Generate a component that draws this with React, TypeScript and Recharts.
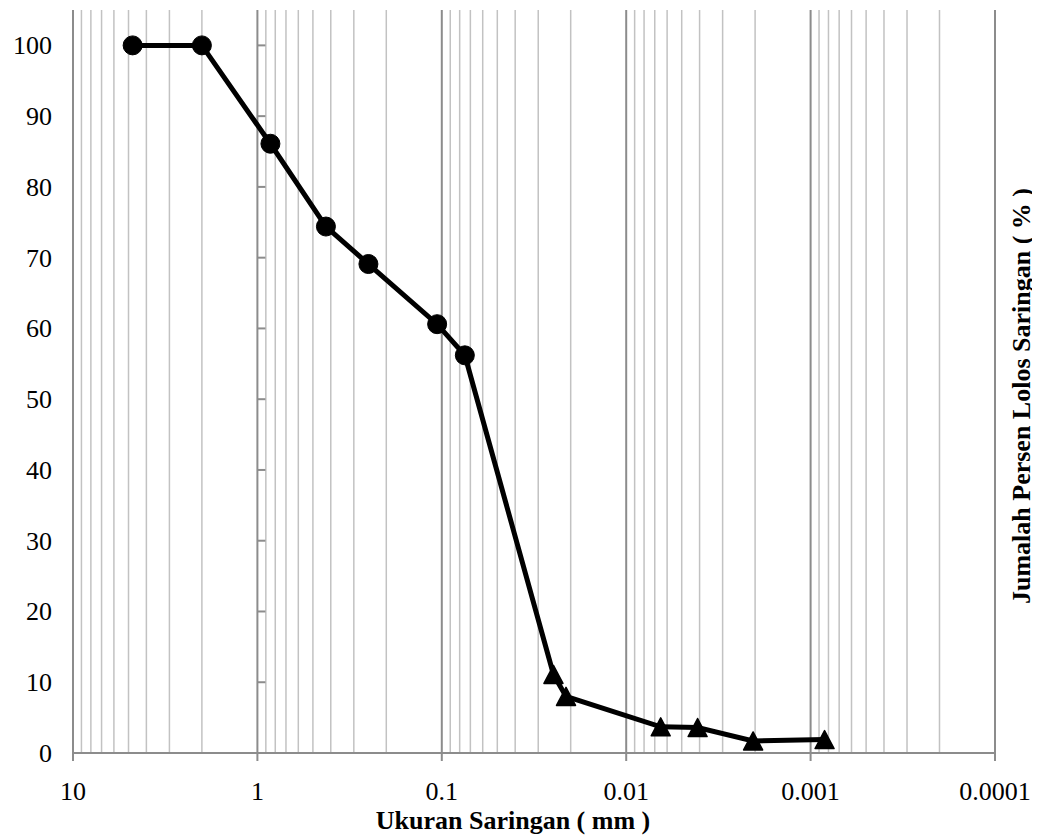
import React from "react";
import { LineChart, Line, XAxis, YAxis, ReferenceLine } from "recharts";

// sieve + hydrometer results
const sizes = [4.75, 2, 0.85, 0.425, 0.25, 0.106, 0.075, 0.0248, 0.0212, 0.0065, 0.0041, 0.00205, 0.00084];
const passing = [100, 100, 86.1, 74.4, 69.1, 60.6, 56.2, 11.1, 8.0, 3.7, 3.6, 1.7, 1.9];
const markers = ["circle", "circle", "circle", "circle", "circle", "circle", "circle", "triangle", "triangle", "triangle", "triangle", "triangle", "triangle"];

const xTicks = [10, 1, 0.1, 0.01, 0.001, 0.0001];
const xTickLabels = ["10", "1", "0.1", "0.01", "0.001", "0.0001"];
const yTicks = [0, 10, 20, 30, 40, 50, 60, 70, 80, 90, 100];

const X_TITLE = "Ukuran Saringan ( mm )";
const Y_TITLE = "Jumalah Persen Lolos Saringan ( % )";

const data = sizes.map((size, i) => ({ size, passing: passing[i], marker: markers[i] }));

// minor log gridlines 2..9 in each decade
const minorGrid: number[] = [];
[1, 0.1, 0.01, 0.001, 0.0001].forEach((d) => {
  for (let k = 2; k <= 9; k++) minorGrid.push(+(k * d).toPrecision(3));
});

const FONT = "'Liberation Serif', 'Times New Roman', serif";
const MAJOR = "#8c8c8c";
const MINOR = "#c2c2c2";

const W = 1032;
const H = 830;
const PLOT_LEFT = 65;
const PLOT_WIDTH = 922;

const YTick = ({ y, payload }: any) => (
  <g>
    <text x={44} y={y + 9} textAnchor="end" fontFamily={FONT} fontSize={26} fill="#000">
      {payload.value}
    </text>
    <line
      x1={PLOT_LEFT + PLOT_WIDTH / 5}
      x2={PLOT_LEFT + PLOT_WIDTH / 5 + 8}
      y1={y}
      y2={y}
      stroke={MAJOR}
      strokeWidth={2}
    />
  </g>
);

const XTick = ({ x, y, payload }: any) => {
  const idx = xTicks.indexOf(payload.value);
  return (
    <text x={x} y={y + 37} textAnchor="middle" fontFamily={FONT} fontSize={26} fill="#000">
      {idx >= 0 ? xTickLabels[idx] : String(payload.value)}
    </text>
  );
};

const renderDot = (props: any) => {
  const { cx, cy, index, payload } = props;
  if (cx == null || cy == null) return <g key={`d-${index}`} />;
  if (payload.marker === "triangle") {
    return (
      <polygon
        key={`d-${index}`}
        points={`${cx},${cy - 9} ${cx + 9.5},${cy + 9} ${cx - 9.5},${cy + 9}`}
        fill="#000"
        stroke="#000"
        strokeWidth={1.5}
        strokeLinejoin="round"
      />
    );
  }
  return <circle key={`d-${index}`} cx={cx} cy={cy} r={9.5} fill="#000" stroke="#000" strokeWidth={1} />;
};

const App = () => {
  return (
    <div style={{ width: W, height: H }}>
      <LineChart width={W} height={H} data={data} margin={{ top: 2, right: 0, bottom: 0, left: 0 }}>
        {minorGrid.map((v) => (
          <ReferenceLine key={`m-${v}`} x={v} stroke={MINOR} strokeWidth={1.5} />
        ))}
        {xTicks.map((v) => (
          <ReferenceLine key={`M-${v}`} x={v} stroke={MAJOR} strokeWidth={2} />
        ))}
        <XAxis
          dataKey="size"
          type="number"
          scale="log"
          domain={[0.0001, 10]}
          allowDataOverflow
          reversed
          ticks={xTicks}
          interval={0}
          height={85}
          axisLine={{ stroke: MAJOR, strokeWidth: 2 }}
          tickLine={{ stroke: MAJOR, strokeWidth: 2 }}
          tickSize={8}
          tick={<XTick />}
          label={(props: any) => {
            const vb = props.viewBox;
            return (
              <text
                x={vb.x + vb.width / 2 - 21}
                y={821}
                textAnchor="middle"
                fontFamily={FONT}
                fontWeight="bold"
                fontSize={26}
                fill="#000"
              >
                {X_TITLE}
              </text>
            );
          }}
        />
        <YAxis
          type="number"
          domain={[0, 105]}
          allowDataOverflow
          ticks={yTicks}
          interval={0}
          width={PLOT_LEFT}
          axisLine={false}
          tickLine={false}
          tick={<YTick />}
        />
        <YAxis
          yAxisId="right"
          orientation="right"
          type="number"
          domain={[0, 105]}
          width={W - PLOT_LEFT - PLOT_WIDTH}
          axisLine={false}
          tickLine={false}
          tick={false}
          label={() => (
            <text
              x={1013}
              y={388}
              transform="rotate(-90 1013 388)"
              textAnchor="middle"
              dominantBaseline="central"
              fontFamily={FONT}
              fontWeight="bold"
              fontSize={26}
              fill="#000"
            >
              {Y_TITLE}
            </text>
          )}
        />
        <Line
          type="linear"
          dataKey="passing"
          stroke="#000"
          strokeWidth={5}
          dot={renderDot}
          activeDot={false}
          isAnimationActive={false}
        />
      </LineChart>
    </div>
  );
};

export default App;
